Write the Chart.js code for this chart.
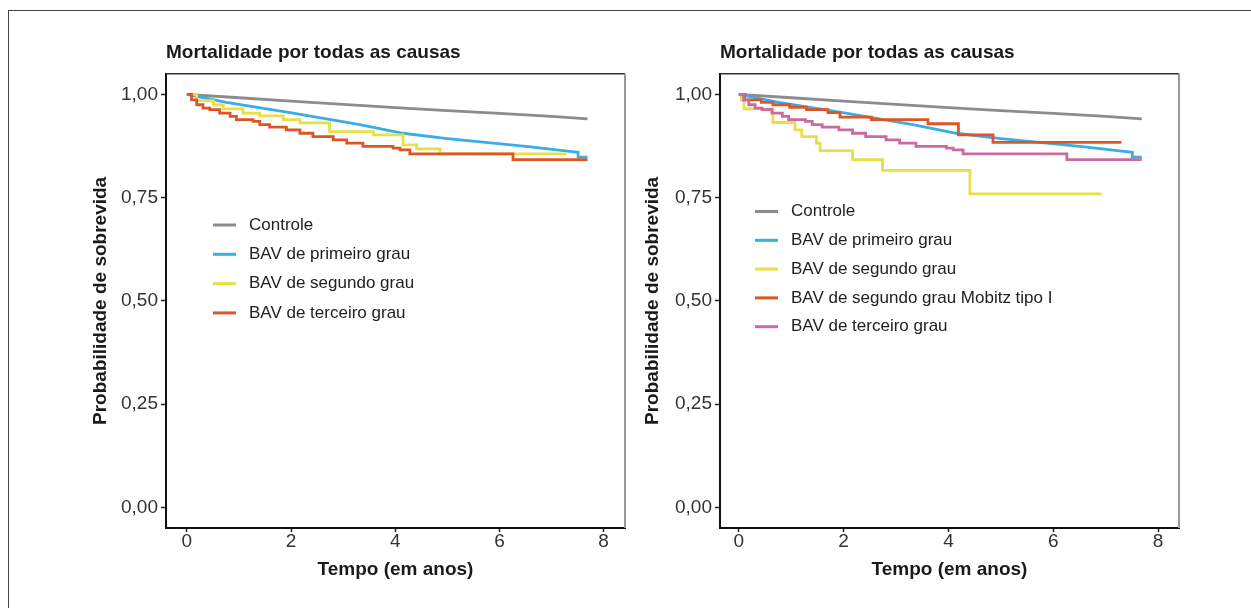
<!DOCTYPE html>
<html>
<head>
<meta charset="utf-8">
<script src="https://cdn.jsdelivr.net/npm/chart.js@4.4.1/dist/chart.umd.min.js"></script>
<style>
  html, body { margin: 0; padding: 0; background: #fff; }
  body { width: 1251px; height: 608px; position: relative; overflow: hidden; }
  .frame { position: absolute; left: 8px; top: 10px; width: 1400px; height: 800px;
           border-left: 1.5px solid #444; border-top: 1.5px solid #444; }
  .panel { position: absolute; top: 30px; width: 560px; height: 570px; }
</style>
</head>
<body>
<div class="frame"></div>
<div class="panel" style="left:80px"><canvas id="left"></canvas></div>
<div class="panel" style="left:634px"><canvas id="right"></canvas></div>
<script>
const FONT = '"Liberation Sans", Arial, sans-serif'
const chartTitle = "Mortalidade por todas as causas"
const xTitle = "Tempo (em anos)"
const yTitle = "Probabilidade de sobrevida"
const xTicks = [0, 2, 4, 6, 8]
const yTicks = [0, 0.25, 0.5, 0.75, 1]

// Controle
const controlT = [0, 1, 2, 3, 4, 5, 6, 7, 7.69]
const controlS = [1, 0.992, 0.984, 0.976, 0.968, 0.961, 0.954, 0.947, 0.941]

// BAV de primeiro grau
const firstT = [0, 0.76, 2.04, 3.32, 4.15, 5.0, 5.88, 6.6, 7.22, 7.51, 7.51, 7.69]
const firstS = [1, 0.981, 0.955, 0.927, 0.906, 0.893, 0.882, 0.873, 0.864, 0.860, 0.848, 0.848]

// BAV de segundo grau (painel esquerdo)
const secondLT = [0, 0.19, 0.51, 0.70, 1.08, 1.40, 1.85, 2.17, 2.74, 3.58, 4.15, 4.41, 4.86, 7.29]
const secondLS = [1, 0.985, 0.975, 0.965, 0.955, 0.948, 0.939, 0.931, 0.910, 0.902, 0.878, 0.868, 0.856, 0.856]

// BAV de segundo grau (painel direito)
const secondRT = [0, 0.05, 0.10, 0.65, 1.07, 1.20, 1.48, 1.55, 2.17, 2.74, 4.41, 6.92]
const secondRS = [1, 0.985, 0.965, 0.932, 0.914, 0.898, 0.882, 0.864, 0.842, 0.816, 0.759, 0.759]

// BAV de segundo grau Mobitz tipo I
const mobitzT = [0, 0.11, 0.43, 0.65, 0.97, 1.29, 1.70, 1.93, 2.53, 3.61, 4.19, 4.85, 7.30]
const mobitzS = [1, 0.987, 0.981, 0.975, 0.969, 0.963, 0.956, 0.945, 0.939, 0.929, 0.902, 0.884, 0.884]

// BAV de terceiro grau
const thirdT = [0, 0.09, 0.19, 0.31, 0.44, 0.63, 0.83, 0.95, 1.27, 1.40, 1.59, 1.91, 2.17, 2.42, 2.81, 3.07, 3.38, 3.96, 4.09, 4.28, 6.26, 7.69]
const thirdS = [1, 0.987, 0.975, 0.967, 0.963, 0.955, 0.947, 0.939, 0.935, 0.927, 0.921, 0.914, 0.906, 0.898, 0.890, 0.882, 0.874, 0.870, 0.866, 0.856, 0.842, 0.842]

const GRAY = "#8c8c8c", BLUE = "#3aade3", YELLOW = "#e6df45", ORANGE = "#dd5527", PINK = "#c96ba2"

function pts(t, s) { return t.map((v, i) => ({ x: v, y: s[i] })) }

function series(label, t, s, color, stepped) {
  return { label, data: pts(t, s), borderColor: color, backgroundColor: color,
           borderWidth: 2.8, pointRadius: 0, stepped: stepped ? 'before' : false, tension: 0 }
}

const legendPlugin = {
  id: 'insideLegend',
  afterDatasetsDraw(chart, args, opts) {
    const ctx = chart.ctx
    ctx.save()
    ctx.font = '17px ' + FONT
    ctx.textBaseline = 'middle'
    chart.data.datasets.forEach((ds, i) => {
      const y = opts.y + i * opts.gap
      ctx.strokeStyle = ds.borderColor
      ctx.lineWidth = 3
      ctx.beginPath(); ctx.moveTo(opts.x, y); ctx.lineTo(opts.x + 23, y); ctx.stroke()
      ctx.fillStyle = '#222'
      ctx.fillText(ds.label, opts.x + 36, y)
    })
    ctx.restore()
  }
}

const framePlugin = {
  id: 'frameLines',
  afterDraw(chart) {
    const { ctx, chartArea: a } = chart
    ctx.save()
    ctx.lineWidth = 1.5; ctx.strokeStyle = '#333'
    ctx.beginPath(); ctx.moveTo(a.left, a.top); ctx.lineTo(a.right, a.top); ctx.stroke()
    ctx.lineWidth = 2; ctx.strokeStyle = '#999'
    ctx.beginPath(); ctx.moveTo(a.right, a.top); ctx.lineTo(a.right, a.bottom); ctx.stroke()
    ctx.restore()
  }
}

function makeChart(id, datasets, xMin, xMax, legend, yTitlePad) {
  datasets.forEach((d, i) => { d.order = datasets.length - i })
  return new Chart(document.getElementById(id), {
    type: 'line',
    data: { datasets },
    options: {
      responsive: true, maintainAspectRatio: false, animation: false,
      layout: { padding: { right: 15, left: 0, top: 0, bottom: 0 } },
      plugins: {
        legend: { display: false },
        tooltip: { enabled: false },
        title: { display: true, text: chartTitle, align: 'start', fullSize: false, color: '#1a1a1a',
                 font: { family: FONT, size: 19, weight: 'bold', lineHeight: 1.2 },
                 padding: { top: 11, bottom: 10 } },
        insideLegend: legend
      },
      scales: {
        x: {
          type: 'linear', min: xMin, max: xMax,
          afterBuildTicks: s => { s.ticks = xTicks.map(v => ({ value: v })) },
          afterFit: s => { s.height = 72 },
          grid: { drawOnChartArea: false, tickLength: 4, tickColor: '#222', tickWidth: 1.5 },
          border: { color: '#111', width: 2 },
          ticks: { color: '#333', font: { family: FONT, size: 19, lineHeight: 1 }, padding: 0,
                   maxRotation: 0, autoSkip: false },
          title: { display: true, text: xTitle, color: '#1a1a1a',
                   font: { family: FONT, size: 19, weight: 'bold', lineHeight: 1.2 },
                   padding: { top: 0, bottom: 19 } }
        },
        y: {
          type: 'linear', min: -0.05, max: 1.05,
          afterBuildTicks: s => { s.ticks = yTicks.map(v => ({ value: v })) },
          afterFit: s => { s.width = 86 },
          grid: { drawOnChartArea: false, tickLength: 5, tickColor: '#222', tickWidth: 1.5 },
          border: { color: '#111', width: 2 },
          ticks: { color: '#333', font: { family: FONT, size: 19 }, padding: 3,
                   callback: v => v.toFixed(2).replace('.', ',') },
          title: { display: true, text: yTitle, color: '#1a1a1a',
                   font: { family: FONT, size: 19, weight: 'bold', lineHeight: 1.2 },
                   padding: { top: yTitlePad, bottom: 0 } }
        }
      }
    },
    plugins: [legendPlugin, framePlugin]
  })
}

makeChart('left', [
  series('Controle', controlT, controlS, GRAY, false),
  series('BAV de primeiro grau', firstT, firstS, BLUE, false),
  series('BAV de segundo grau', secondLT, secondLS, YELLOW, true),
  series('BAV de terceiro grau', thirdT, thirdS, ORANGE, true)
], -0.40, 8.41, { x: 133, y: 195, gap: 29.3 }, 9)

makeChart('right', [
  series('Controle', controlT, controlS, GRAY, false),
  series('BAV de primeiro grau', firstT, firstS, BLUE, false),
  series('BAV de segundo grau', secondRT, secondRS, YELLOW, true),
  series('BAV de segundo grau Mobitz tipo I', mobitzT, mobitzS, ORANGE, true),
  series('BAV de terceiro grau', thirdT, thirdS, PINK, true)
], -0.36, 8.40, { x: 121, y: 181.5, gap: 28.8 }, 7)
</script>
</body>
</html>
